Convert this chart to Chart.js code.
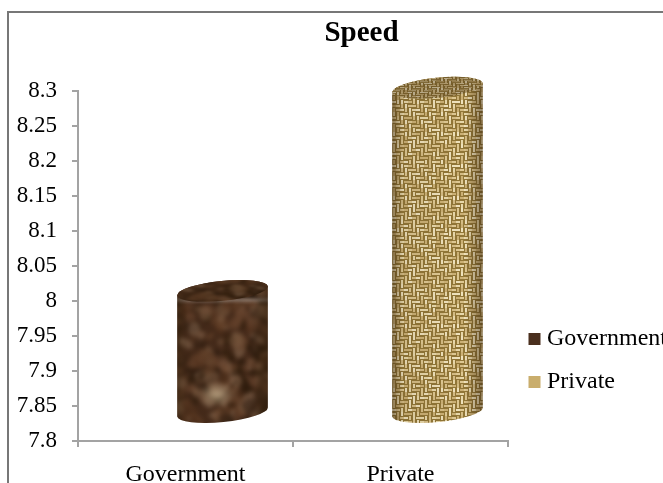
<!DOCTYPE html>
<html>
<head>
<meta charset="utf-8">
<title>Speed</title>
<script src="https://cdn.jsdelivr.net/npm/chart.js@4/dist/chart.umd.min.js"></script>
<style>
  html, body { margin: 0; padding: 0; background: #fff; overflow: hidden; }
  #wrap { position: relative; width: 663px; height: 483px; }
  #frame { position: absolute; left: 7px; top: 11px; right: 0; bottom: 0; border-top: 2px solid #777; border-left: 2px solid #777; }
  canvas { position: absolute; left: 0; top: 0; }
</style>
</head>
<body>
<div id="wrap">
  <div id="frame"></div>
  <canvas id="speed-chart" width="663" height="483"></canvas>
</div>
<script>
const categories = ['Government', 'Private'];
const speedValues = [8.01, 8.3];
const tickLabels = ['7.8', '7.85', '7.9', '7.95', '8', '8.05', '8.1', '8.15', '8.2', '8.25', '8.3'];
const barColors = ['#4a2f1e', '#c9ad6c'];

const SERIF = '"Liberation Serif", serif';
const AXIS_GREY = '#a3a3a3';

// small seeded generator so the textures look the same on every load
function seeded(n) {
  return () => {
    n = (n * 1664525 + 1013904223) >>> 0;
    return n / 4294967296;
  };
}

function softened(tile, px) {
  const out = document.createElement('canvas');
  out.width = tile.width;
  out.height = tile.height;
  const c = out.getContext('2d');
  c.filter = `blur(${px}px)`;
  // draw neighbours too so the blur wraps across the tile edge
  for (let dx = -1; dx <= 1; dx++) {
    for (let dy = -1; dy <= 1; dy++) {
      c.drawImage(tile, dx * tile.width, dy * tile.height);
    }
  }
  return out;
}

function makeMarbleTile() {
  const tile = document.createElement('canvas');
  tile.width = 150;
  tile.height = 150;
  const c = tile.getContext('2d');
  c.fillStyle = '#452a1a';
  c.fillRect(0, 0, 150, 150);
  const rnd = seeded(41);
  const tones = ['#6a4630', '#2a1a0e', '#7f5e46', '#58351f', '#241508', '#70492f', '#8c6e56', '#351f10'];
  for (let i = 0; i < 620; i++) {
    const x = rnd() * 150, y = rnd() * 150, r = 2 + rnd() * 7;
    c.fillStyle = tones[Math.floor(rnd() * tones.length)];
    c.globalAlpha = 0.55;
    c.beginPath();
    c.ellipse(x, y, r, r * (0.4 + rnd() * 0.6), rnd() * 3, 0, Math.PI * 2);
    c.fill();
  }
  c.globalAlpha = 1;
  // the pale patch low on the body
  const glow = c.createRadialGradient(66, 95, 0, 66, 95, 20);
  glow.addColorStop(0, 'rgba(195,172,138,0.85)');
  glow.addColorStop(1, 'rgba(195,172,138,0)');
  c.fillStyle = glow;
  c.save();
  c.translate(66, 95);
  c.scale(1, 0.6);
  c.translate(-66, -95);
  c.fillRect(36, 65, 60, 60);
  c.restore();
  return softened(tile, 2);
}

function makeWeaveTile() {
  const cell = 4, period = 16;
  const tile = document.createElement('canvas');
  tile.width = cell * period;
  tile.height = cell * period;
  const c = tile.getContext('2d');
  c.fillStyle = '#937838';
  c.fillRect(0, 0, tile.width, tile.height);
  const rnd = seeded(7);
  const tints = ['#ecdcae', '#e2cc96', '#f3e6c0', '#d8c088', '#cfb478'];
  for (let row = 0; row < period; row++) {
    // the twill step reverses halfway down the tile, which gives the zigzag
    const step = row < period / 2 ? row : period - row;
    for (let col = 0; col < period; col++) {
      const across = (col + step) % 4 < 2;
      const x = col * cell, y = row * cell;
      c.fillStyle = tints[Math.floor(rnd() * tints.length)];
      if (across) c.fillRect(x, y + 1, cell, cell - 2);
      else c.fillRect(x + 1, y, cell - 2, cell);
    }
  }
  return softened(tile, 0.6);
}

const ctxForPatterns = document.createElement('canvas').getContext('2d');
const textureTiles = [makeMarbleTile(), makeWeaveTile()];
const barPatterns = textureTiles.map(t => ctxForPatterns.createPattern(t, 'repeat'));
const capPatterns = textureTiles.map(t => {
  const p = ctxForPatterns.createPattern(t, 'repeat');
  p.setTransform(new DOMMatrix().scale(1, 0.45));
  return p;
});

// Draws the bars as tilted cylinders standing on a floor set back from the axes
const cylinderPlugin = {
  id: 'cylinders',
  beforeDatasetsDraw(chart) {
    const ctx = chart.ctx;
    const bars = chart.getDatasetMeta(0).data;
    const floor = chart.scales.y.bottom;
    const tilt = -0.1, ry = 10, depthX = 37, depthY = 29, lift = 3;
    bars.forEach((bar, i) => {
      const cx = bar.x + depthX;
      const rx = bar.width / 2;
      const topY = bar.y - lift;
      const baseY = floor - depthY;

      ctx.save();
      ctx.beginPath();
      ctx.ellipse(cx, baseY, rx, ry, tilt, 0, Math.PI);
      ctx.ellipse(cx, topY, rx, ry, tilt, Math.PI, 0);
      ctx.closePath();
      ctx.fillStyle = barPatterns[i];
      ctx.fill();
      const shade = ctx.createLinearGradient(cx - rx, 0, cx + rx, 0);
      shade.addColorStop(0, 'rgba(50,32,12,0.5)');
      shade.addColorStop(0.12, 'rgba(50,32,12,0.1)');
      shade.addColorStop(0.8, 'rgba(50,32,12,0.02)');
      shade.addColorStop(1, 'rgba(50,32,12,0.5)');
      ctx.fillStyle = shade;
      ctx.fill();

      ctx.beginPath();
      ctx.ellipse(cx, topY, rx, ry, tilt, 0, Math.PI * 2);
      ctx.fillStyle = capPatterns[i];
      ctx.fill();
      ctx.fillStyle = 'rgba(50,32,12,0.3)';
      ctx.fill();
      ctx.restore();
    });
    return false;
  }
};

// Title and legend sit off their default layout slots
const placementPlugin = {
  id: 'placement',
  afterLayout(chart) {
    const title = chart.titleBlock;
    title.left += 30;
    title.right += 30;
    const legend = chart.legend;
    legend.left = 515;
    legend.top = 308;
    legend.bottom = 483;
  }
};

new Chart(document.getElementById('speed-chart'), {
  type: 'bar',
  data: {
    labels: categories,
    datasets: [{
      data: speedValues,
      backgroundColor: barColors,
      barThickness: 91,
    }]
  },
  plugins: [cylinderPlugin, placementPlugin],
  options: {
    responsive: false,
    animation: false,
    events: [],
    layout: { padding: 0 },
    plugins: {
      tooltip: { enabled: false },
      title: {
        display: true,
        text: 'Speed',
        color: '#000',
        font: { family: SERIF, size: 29, weight: 'bold' },
        padding: { top: 16, bottom: 40 },
      },
      legend: {
        position: 'right',
        align: 'start',
        maxWidth: 155,
        labels: {
          color: '#000',
          font: { family: SERIF, size: 24 },
          usePointStyle: true,
          boxWidth: 1,
          boxHeight: 12,
          padding: 19,
          generateLabels: () => categories.map((name, i) => ({
            text: name,
            fillStyle: barColors[i],
            strokeStyle: 'transparent',
            lineWidth: 0,
            pointStyle: 'rect',
            datasetIndex: 0,
            index: i,
          })),
        },
      },
    },
    scales: {
      x: {
        afterFit: scale => { scale.height = 42; },
        border: { color: AXIS_GREY, width: 2 },
        grid: { drawOnChartArea: false, color: AXIS_GREY, lineWidth: 2, tickLength: 6 },
        ticks: { color: '#000', font: { family: SERIF, size: 24 }, padding: 13, maxRotation: 0 },
      },
      y: {
        min: 7.8,
        max: 8.3,
        afterFit: scale => { scale.width = 78; },
        afterBuildTicks: scale => {
          scale.ticks = tickLabels.map(t => ({ value: Number(t) }));
        },
        border: { color: AXIS_GREY, width: 2 },
        grid: { drawOnChartArea: false, color: AXIS_GREY, lineWidth: 2, tickLength: 6 },
        ticks: {
          color: '#000',
          font: { family: SERIF, size: 23 },
          padding: 15,
          callback: v => String(Number(v.toFixed(2))),
        },
      },
    },
  },
});
</script>
</body>
</html>
